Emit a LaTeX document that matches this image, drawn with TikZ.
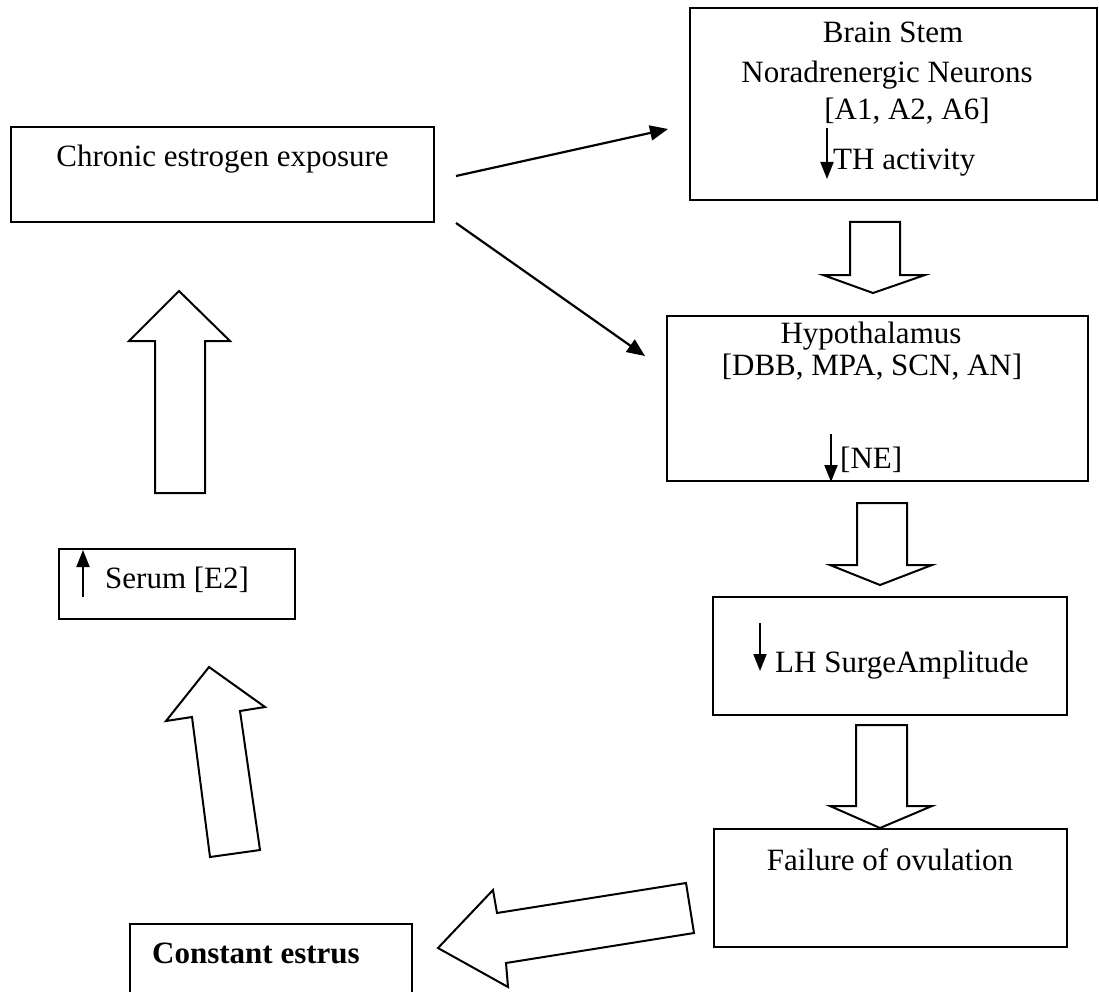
\documentclass[tikz,border=0pt]{standalone}
\usepackage{fontspec}
\setmainfont{Liberation Serif}
\usetikzlibrary{arrows.meta}
\begin{document}
\begin{tikzpicture}[x=1pt,y=-1pt,
  box/.style={draw, line width=2pt, inner sep=0pt},
  txt/.style={font=\fontsize{31}{37}\selectfont, inner sep=0pt, anchor=base},
  txtw/.style={font=\fontsize{31}{37}\selectfont, inner sep=0pt, anchor=base west},
  blockarrow/.style={draw, line width=2pt, line join=miter, fill=white},
  conn/.style={line width=2.2pt, -{Triangle[length=18pt,width=15pt]}},
  small/.style={line width=2pt, -{Triangle[length=17pt,width=13pt]}}]

\useasboundingbox (0,0) rectangle (1099,992);

% boxes
\node[box, minimum width=423pt, minimum height=95pt] (chronic) at (222.5,174.5) {};
\node[box, minimum width=407pt, minimum height=192pt] (brain) at (893.5,104) {};
\node[box, minimum width=421pt, minimum height=165pt] (hypo) at (877.5,398.5) {};
\node[box, minimum width=354pt, minimum height=118pt] (lh) at (890,656) {};
\node[box, minimum width=353pt, minimum height=118pt] (fail) at (890.5,888) {};
\node[box, minimum width=236pt, minimum height=70pt] (serum) at (177,584) {};
\node[box, minimum width=282pt, minimum height=74pt] (estrus) at (271,961) {};

% texts
\node[txt] (tchronic) at (222.5,167) {Chronic estrogen exposure};
\node[txt] (tbrain1) at (893,43) {Brain Stem};
\node[txt] (tbrain2) at (887,83) {Noradrenergic Neurons};
\node[txt] (tbrain3) at (907,120) {[A1, A2, A6]};
\node[txtw] (tbrain4) at (833,170) {TH activity};
\coordinate (tha) at (827,128);
\coordinate (thb) at (827,179);
\draw[small] (tha) -- (thb);

\node[txt] (thypo1) at (871,343) {Hypothalamus};
\node[txt] (thypo2) at (872,375) {[DBB, MPA, SCN, AN]};
\node[txtw] (thypo3) at (840,468) {[NE]};
\coordinate (nea) at (831,434);
\coordinate (neb) at (831,482);
\draw[small] (nea) -- (neb);

\node[txtw] (tlh) at (775,672) {LH SurgeAmplitude};
\coordinate (lha) at (760,623);
\coordinate (lhb) at (760,671);
\draw[small] (lha) -- (lhb);

\node[txt] (tfail) at (890,870) {Failure of ovulation};

\node[txtw] (tserum) at (105,588) {Serum [E2]};
\coordinate (sea) at (83,597);
\coordinate (seb) at (83,550);
\draw[small] (sea) -- (seb);

\node[txtw, font=\fontsize{31}{37}\selectfont\bfseries] (testrus) at (152,963) {Constant estrus};

% connectors
\coordinate (c1s) at (456,176);
\coordinate (c1e) at (668,129);
\coordinate (c2s) at (456,223);
\coordinate (c2e) at (645,356);
\draw[conn] (c1s) -- (c1e);
\draw[conn] (c2s) -- (c2e);

% block arrows (down)
\draw[blockarrow] (850,222) -- (900,222) -- (900,275) -- (925,275) -- (873,293) -- (823,275) -- (850,275) -- cycle;
\draw[blockarrow] (857,503) -- (907,503) -- (907,565) -- (932,565) -- (880,585) -- (830,565) -- (857,565) -- cycle;
\draw[blockarrow] (856,725) -- (907,725) -- (907,806) -- (932,806) -- (880,828) -- (830,806) -- (856,806) -- cycle;

% block arrow up (left)
\draw[blockarrow] (155,493) -- (155,341) -- (129,341) -- (179,291) -- (230,341) -- (205,341) -- (205,493) -- cycle;

% tilted block arrow up
\draw[blockarrow] (210,857) -- (192,717) -- (166,721) -- (209,667) -- (265,707) -- (240,711) -- (260,850) -- cycle;

% block arrow left
\draw[blockarrow] (686,883) -- (497,913) -- (493,890) -- (438,948) -- (508,987) -- (506,963) -- (694,933) -- cycle;

\end{tikzpicture}
\end{document}
